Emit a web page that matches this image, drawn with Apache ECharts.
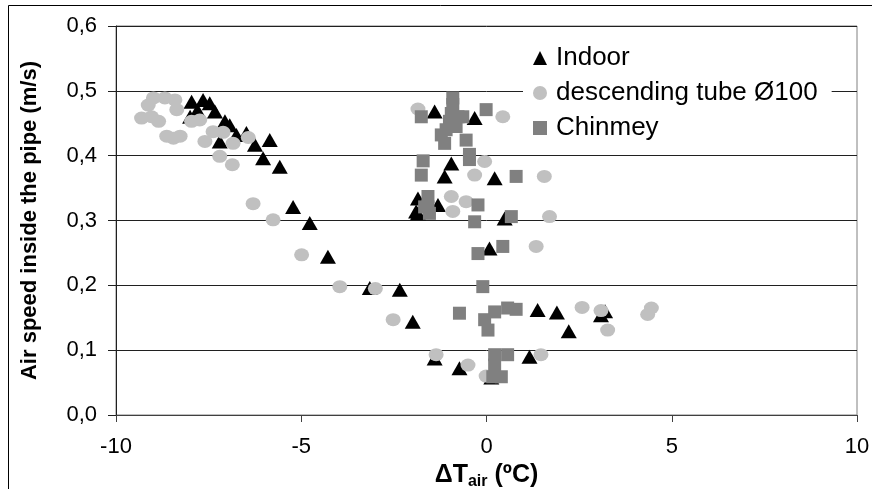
<!DOCTYPE html>
<html>
<head>
<meta charset="utf-8">
<script src="https://cdn.jsdelivr.net/npm/echarts@6/dist/echarts.min.js"></script>
<style>
  html, body {margin: 0; padding: 0; background: #fff;}
  #chart {width: 872px; height: 489px;}
</style>
</head>
<body>
<div id="chart"></div>
<script>
// Indoor measurements [dT, speed]
const indoor = [
    [-7.96, 0.483], [-7.65, 0.486], [-7.47, 0.481], [-7.80, 0.470], [-8.00, 0.460],
    [-7.33, 0.468], [-7.06, 0.453], [-6.93, 0.447], [-7.20, 0.422], [-6.75, 0.432],
    [-6.48, 0.435], [-6.25, 0.417], [-5.85, 0.424], [-6.03, 0.396], [-5.58, 0.383],
    [-5.22, 0.321], [-4.77, 0.296], [-4.28, 0.244], [-3.15, 0.196], [-2.34, 0.193],
    [-1.99, 0.144], [-1.40, 0.087], [-0.73, 0.072], [0.13, 0.058], [-1.85, 0.334],
    [-1.90, 0.314], [-1.85, 0.311], [-1.31, 0.324], [-0.95, 0.388], [-1.13, 0.368],
    [-1.40, 0.468], [-0.32, 0.458], [0.22, 0.365], [0.49, 0.303], [0.08, 0.257],
    [1.16, 0.090], [1.38, 0.162], [1.90, 0.158], [2.22, 0.129], [3.09, 0.154],
    [3.20, 0.160]
];

// descending tube Ø100
const tube = [
    [-8.99, 0.489], [-8.68, 0.489], [-8.41, 0.486], [-9.13, 0.478], [-8.36, 0.471],
    [-9.31, 0.458], [-9.04, 0.460], [-8.85, 0.453], [-7.96, 0.453], [-7.74, 0.455],
    [-8.63, 0.430], [-8.45, 0.427], [-8.27, 0.430], [-7.38, 0.437], [-7.11, 0.436],
    [-7.60, 0.422], [-6.84, 0.419], [-6.43, 0.428], [-7.20, 0.399], [-6.86, 0.386],
    [-6.30, 0.326], [-5.76, 0.301], [-4.99, 0.247], [-3.96, 0.198], [-3.00, 0.195],
    [-2.52, 0.147], [-1.36, 0.093], [-0.50, 0.077], [-0.01, 0.060], [-1.85, 0.472],
    [0.44, 0.460], [-0.05, 0.391], [-0.32, 0.370], [1.56, 0.368], [-0.95, 0.337],
    [-0.55, 0.329], [-0.91, 0.314], [1.70, 0.306], [1.34, 0.260], [1.47, 0.093],
    [2.58, 0.166], [3.09, 0.161], [3.27, 0.131], [4.35, 0.155], [4.45, 0.165]
];

// Chinmey
const chimney = [
    [-1.76, 0.460], [-0.91, 0.489], [-0.91, 0.479], [-0.95, 0.465], [-1.00, 0.453],
    [-0.77, 0.460], [-0.64, 0.460], [-1.09, 0.440], [-1.22, 0.432], [-1.13, 0.419],
    [-0.55, 0.424], [-0.82, 0.445], [-0.01, 0.471], [-1.71, 0.392], [-1.76, 0.370],
    [-0.46, 0.394], [-0.46, 0.402], [0.80, 0.368], [-1.58, 0.337], [-1.58, 0.321],
    [-1.54, 0.311], [-1.67, 0.321], [-0.23, 0.324], [-0.32, 0.298], [0.67, 0.306],
    [0.44, 0.260], [-0.23, 0.249], [-0.10, 0.198], [-0.73, 0.157], [-0.05, 0.147],
    [0.04, 0.131], [0.22, 0.159], [0.57, 0.165], [0.80, 0.163], [0.22, 0.093],
    [0.57, 0.093], [0.22, 0.077], [0.40, 0.059], [0.17, 0.059]
];

const seriesNames = ['Indoor', 'descending tube Ø100', 'Chinmey'];
const xTitle = 'ΔT';
const xTitleSub = 'air';
const xTitleUnit = ' (ºC)';
const yTitle = 'Air speed inside the pipe (m/s)';

const font = 'Liberation Sans, Arial, sans-serif';

let myChart = echarts.init(document.getElementById('chart'), null, {renderer: 'canvas'});
myChart.setOption({
    animation: false,
    backgroundColor: '#fff',
    textStyle: {fontFamily: font},
    graphic: [{
        type: 'rect',
        shape: {x: 8.5, y: 5.5, width: 900, height: 600},
        style: {fill: null, stroke: '#000', lineWidth: 1},
        silent: true,
        z: -1
    }],
    grid: {
        left: 116, right: 15, top: 26, bottom: 74,
        outerBoundsMode: 'none',
        show: true, borderColor: '#808080', borderWidth: 1
    },
    legend: {
        orient: 'vertical',
        left: 523,
        top: 41,
        padding: [4, 14, 6, 10],
        backgroundColor: '#fff',
        itemWidth: 14,
        itemHeight: 14,
        itemGap: 9,
        textStyle: {fontSize: 26, color: '#000', fontFamily: font, lineHeight: 26, padding: [0, 0, 0, 4]},
        data: seriesNames
    },
    xAxis: {
        type: 'value',
        min: -10, max: 10, interval: 5,
        name: '{a|' + xTitle + '}{s|' + xTitleSub + '}{a|' + xTitleUnit + '}',
        nameLocation: 'middle',
        nameGap: 42,
        nameTextStyle: {
            rich: {
                a: {fontSize: 25, fontWeight: 'bold', color: '#000', fontFamily: font},
                s: {fontSize: 16, fontWeight: 'bold', color: '#000', fontFamily: font, verticalAlign: 'bottom', padding: [12, 0, 0, 0]}
            }
        },
        axisLine: {onZero: false, lineStyle: {color: '#404040', width: 1}},
        axisTick: {show: true, length: 7, lineStyle: {color: '#404040'}},
        axisLabel: {fontSize: 22, color: '#000', margin: 21, fontFamily: font},
        splitLine: {show: false}
    },
    yAxis: {
        type: 'value',
        min: 0, max: 0.6, interval: 0.1,
        name: yTitle,
        nameLocation: 'middle',
        nameGap: 75,
        nameTextStyle: {fontSize: 22, fontWeight: 'bold', color: '#000', fontFamily: font},
        axisLine: {show: true, onZero: false, lineStyle: {color: '#202020', width: 1}},
        axisTick: {show: true, length: 8, lineStyle: {color: '#202020'}},
        axisLabel: {
            fontSize: 22, color: '#000', margin: 19, fontFamily: font,
            formatter: v => v.toFixed(1).replace('.', ',')
        },
        splitLine: {show: true, lineStyle: {color: '#202020', width: 1}}
    },
    series: [
        {
            name: seriesNames[0],
            type: 'scatter',
            symbol: 'triangle',
            symbolSize: [16, 14],
            itemStyle: {color: '#000', opacity: 1},
            data: indoor,
            z: 3
        },
        {
            name: seriesNames[1],
            type: 'scatter',
            symbol: 'circle',
            symbolSize: [15, 13],
            itemStyle: {color: '#c0c0c0', opacity: 1},
            data: tube,
            z: 4
        },
        {
            name: seriesNames[2],
            type: 'scatter',
            symbol: 'rect',
            symbolSize: 13,
            itemStyle: {color: '#808080', opacity: 1},
            data: chimney,
            z: 5
        }
    ]
});
</script>
</body>
</html>
